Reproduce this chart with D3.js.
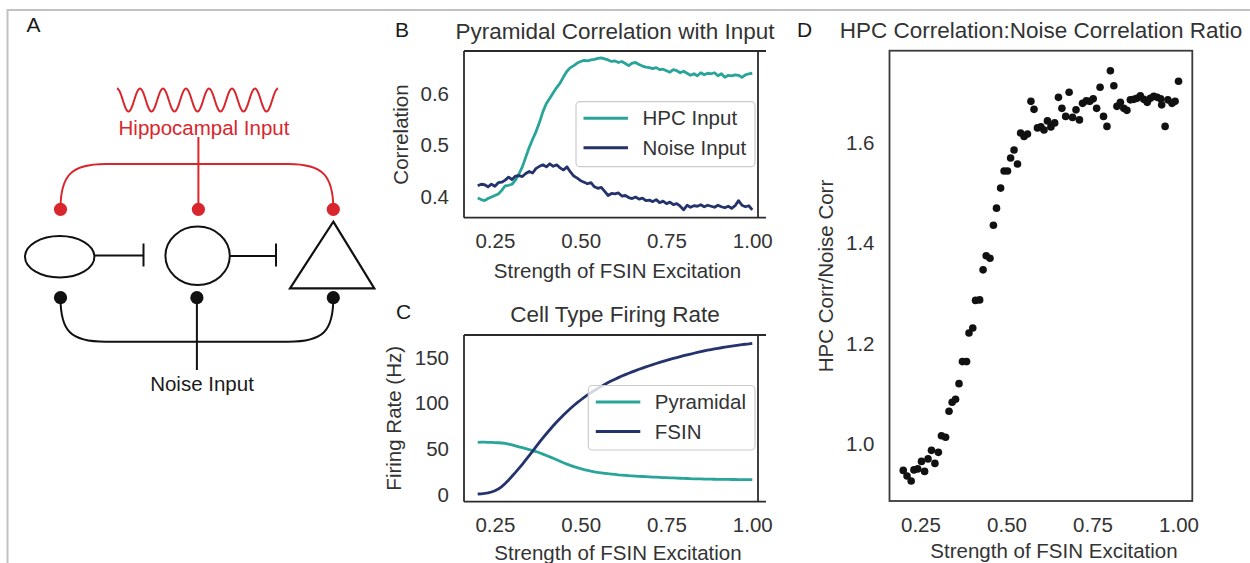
<!DOCTYPE html>
<html><head><meta charset="utf-8">
<script src="https://cdn.jsdelivr.net/npm/d3@7"></script>
<style>
html,body{margin:0;padding:0;background:#fff;}
svg{display:block;font-family:"Liberation Sans",Arial,Helvetica,sans-serif;}
</style></head><body>
<svg id="chart" width="1250" height="563"></svg>
<script>
// ---------------- DATA ----------------
const excitation = [
0.20,0.21,0.22,0.23,0.24,0.25,0.26,0.27,0.28,0.29,
0.30,0.31,0.32,0.33,0.34,0.35,0.36,0.37,0.38,0.39,
0.40,0.41,0.42,0.43,0.44,0.45,0.46,0.47,0.48,0.49,
0.50,0.51,0.52,0.53,0.54,0.55,0.56,0.57,0.58,0.59,
0.60,0.61,0.62,0.63,0.64,0.65,0.66,0.67,0.68,0.69,
0.70,0.71,0.72,0.73,0.74,0.75,0.76,0.77,0.78,0.79,
0.80,0.81,0.82,0.83,0.84,0.85,0.86,0.87,0.88,0.89,
0.90,0.91,0.92,0.93,0.94,0.95,0.96,0.97,0.98,0.99,
1.00];
const hpcCorr = [
0.397,0.394,0.392,0.396,0.399,0.402,0.405,0.412,0.421,0.422,
0.424,0.432,0.444,0.458,0.477,0.496,0.512,0.527,0.545,0.566,
0.582,0.592,0.603,0.613,0.622,0.634,0.645,0.652,0.656,0.661,
0.664,0.666,0.665,0.667,0.668,0.670,0.671,0.669,0.667,0.664,
0.665,0.662,0.664,0.660,0.656,0.661,0.662,0.658,0.655,0.653,
0.652,0.650,0.652,0.648,0.649,0.646,0.643,0.648,0.646,0.642,
0.645,0.641,0.637,0.640,0.636,0.642,0.638,0.641,0.640,0.642,
0.636,0.640,0.633,0.637,0.636,0.638,0.637,0.633,0.638,0.640,
0.641];
const noiseCorr = [
0.421,0.424,0.423,0.419,0.424,0.420,0.427,0.428,0.432,0.438,
0.433,0.440,0.441,0.439,0.445,0.449,0.446,0.455,0.459,0.462,
0.458,0.464,0.459,0.462,0.456,0.452,0.458,0.448,0.440,0.436,
0.431,0.428,0.425,0.427,0.419,0.416,0.418,0.410,0.402,0.406,
0.405,0.407,0.401,0.402,0.398,0.396,0.399,0.395,0.397,0.392,
0.393,0.390,0.394,0.388,0.391,0.386,0.389,0.384,0.386,0.381,
0.374,0.383,0.379,0.382,0.381,0.384,0.380,0.383,0.381,0.379,
0.383,0.380,0.378,0.381,0.377,0.382,0.392,0.383,0.380,0.382,
0.374];
const pyramidalRate = [
57.5,57.6,57.6,57.5,57.4,57.2,57.0,56.7,56.2,55.5,
54.6,53.6,52.6,51.6,50.6,49.6,48.5,47.4,46.1,44.6,
43.1,41.6,40.0,38.4,36.8,35.2,33.7,32.3,31.0,29.8,
28.7,27.7,26.8,26.0,25.3,24.7,24.2,23.7,23.2,22.8,
22.4,22.0,21.7,21.4,21.1,20.9,20.7,20.4,20.2,20.0,
19.8,19.6,19.4,19.2,19.0,18.9,18.7,18.6,18.4,18.3,
18.1,18.0,17.8,17.7,17.6,17.5,17.4,17.3,17.3,17.2,
17.1,17.1,17.0,17.0,16.9,16.9,16.8,16.8,16.8,16.7,
16.7];
const fsinRate = [
1.1,1.3,1.7,2.3,3.3,4.7,6.6,9.2,12.5,16.3,
20.4,24.6,29.0,33.5,38.2,43.0,47.9,52.8,57.6,62.3,
66.8,71.2,75.5,79.6,83.5,87.3,90.9,94.3,97.6,100.7,
103.6,106.4,109.1,111.6,114.0,116.3,118.5,120.6,122.6,124.5,
126.3,128.0,129.7,131.3,132.8,134.3,135.7,137.1,138.4,139.7,
141.0,142.2,143.4,144.6,145.7,146.8,147.9,148.9,149.9,150.9,
151.9,152.8,153.7,154.6,155.5,156.3,157.1,157.9,158.6,159.3,
160.0,160.6,161.2,161.8,162.4,162.9,163.4,163.9,164.4,164.8,
165.3];
const ratioX = [
0.200,0.211,0.223,0.231,0.242,0.253,0.262,0.272,0.282,0.292,
0.302,0.311,0.323,0.333,0.342,0.352,0.362,0.372,0.384,0.391,
0.402,0.410,0.422,0.432,0.441,0.452,0.462,0.471,0.483,0.493,
0.503,0.512,0.522,0.532,0.541,0.551,0.561,0.571,0.580,0.590,
0.600,0.609,0.619,0.629,0.640,0.651,0.661,0.672,0.682,0.692,
0.702,0.712,0.721,0.732,0.742,0.752,0.762,0.772,0.782,0.792,
0.802,0.812,0.821,0.831,0.841,0.850,0.860,0.870,0.879,0.889,
0.899,0.909,0.918,0.928,0.938,0.948,0.951,0.961,0.969,0.981,
0.990,1.000];
const ratioY = [
0.947,0.936,0.926,0.948,0.950,0.965,0.945,0.970,0.987,0.961,
0.983,1.016,1.013,1.065,1.083,1.089,1.120,1.164,1.164,1.221,
1.231,1.286,1.287,1.347,1.375,1.370,1.436,1.470,1.510,1.544,
1.544,1.570,1.586,1.558,1.620,1.613,1.618,1.683,1.667,1.630,
1.632,1.626,1.644,1.632,1.640,1.691,1.669,1.653,1.701,1.651,
1.666,1.646,1.679,1.684,1.683,1.688,1.669,1.711,1.653,1.633,
1.744,1.714,1.673,1.681,1.669,1.665,1.686,1.687,1.689,1.694,
1.687,1.681,1.689,1.693,1.691,1.688,1.676,1.633,1.686,1.679,
1.683,1.723];

const xTicks = [0.25, 0.50, 0.75, 1.00];
const corrTicks = [0.4, 0.5, 0.6];
const rateTicks = [0, 50, 100, 150];
const ratioTicks = [1.0, 1.2, 1.4, 1.6];
const corrSeries = ["HPC Input", "Noise Input"];
const rateSeries = ["Pyramidal", "FSIN"];
const cellTypes = ["Basket", "FSIN", "Pyramidal"];

// ---------------- STYLE ----------------
const TEAL = "#28a499", NAVY = "#24336b", TXT = "#333", SPINE = "#2b2b2b";
const FS = 20.5, TFS = 22.5, LFS = 21;
const RED = "#d9262c";

const svg = d3.select("#chart");

// outer frame (top + left gray rules)
svg.append("line").attr("x1",7.5).attr("x2",1250).attr("y1",10).attr("y2",10).attr("stroke","#c2c2c2").attr("stroke-width",2);
svg.append("line").attr("x1",7.5).attr("x2",7.5).attr("y1",9).attr("y2",563).attr("stroke","#c2c2c2").attr("stroke-width",2);

function letter(txt, x, y){
  svg.append("text").attr("x",x).attr("y",y).attr("font-size",LFS).attr("fill","#1a1a1a").text(txt);
}
function title(txt, x, y){
  svg.append("text").attr("x",x).attr("y",y).attr("text-anchor","middle").attr("font-size",TFS).attr("fill",TXT).text(txt);
}
function axisText(g){
  g.select(".domain").remove();
  g.selectAll("text").attr("font-size",FS).attr("fill",TXT).attr("font-family",'"Liberation Sans",Arial,sans-serif');
}
function xAxis(x, yPix, fmt){
  svg.append("g").attr("transform",`translate(0,${yPix})`)
    .call(d3.axisBottom(x).tickValues(xTicks).tickSize(0).tickPadding(16).tickFormat(d3.format(fmt)))
    .call(axisText);
}
function yAxis(y, xPix, ticks, fmt){
  svg.append("g").attr("transform",`translate(${xPix},0)`)
    .call(d3.axisLeft(y).tickValues(ticks).tickSize(0).tickPadding(15).tickFormat(d3.format(fmt)))
    .call(axisText);
}
function yLabel(txt, x, y){
  svg.append("text").attr("transform",`translate(${x},${y}) rotate(-90)`).attr("text-anchor","middle")
    .attr("font-size",FS).attr("fill",TXT).text(txt);
}
function xLabel(txt, x, y){
  svg.append("text").attr("x",x).attr("y",y).attr("text-anchor","middle").attr("font-size",FS).attr("fill",TXT).text(txt);
}
function spinesBC(x, y){
  const [x0,x1] = x.range(), [yb,yt] = y.range();
  const g = svg.append("g").attr("stroke",SPINE).attr("stroke-width",1.8).attr("fill","none");
  g.append("line").attr("x1",x0).attr("x2",x1).attr("y1",yt).attr("y2",yt);
  g.append("line").attr("x1",x0).attr("x2",x1).attr("y1",yb).attr("y2",yb);
  g.append("line").attr("x1",x0).attr("x2",x0).attr("y1",yt).attr("y2",yb);
  g.append("line").attr("x1",x1-8).attr("x2",x1-8).attr("y1",yt).attr("y2",yb);
}
function legend(names, colors, box){
  const g = svg.append("g");
  g.append("rect").attr("x",box.x).attr("y",box.y).attr("width",box.w).attr("height",box.h)
    .attr("rx",4).attr("fill","#fff").attr("fill-opacity",0.8).attr("stroke","#cccccc").attr("stroke-width",1.2);
  names.forEach((n,i)=>{
    const yy = box.y + 16.5 + i*29.5;
    g.append("line").attr("x1",box.x+7.5).attr("x2",box.x+52).attr("y1",yy).attr("y2",yy)
      .attr("stroke",colors[i]).attr("stroke-width",3);
    g.append("text").attr("x",box.x+66.5).attr("y",yy+7.2).attr("font-size",FS).attr("fill",TXT).text(n);
  });
}

// ---------------- PANEL A (schematic) ----------------
letter("A", 26.5, 32.3);
const cellX = d3.scalePoint().domain(cellTypes).range([60.5, 333.3]);
const gA = svg.append("g");
// sine wave
const waveLine = d3.line().curve(d3.curveBasis);
const wavePts = d3.range(0, 161.5, 1).map(t => [117 + t, 100 - 11.6*Math.cos(2*Math.PI*t/23)]);
gA.append("path").attr("d", waveLine(wavePts)).attr("fill","none").attr("stroke",RED).attr("stroke-width",2);
gA.append("text").attr("x",204).attr("y",135).attr("text-anchor","middle").attr("font-size",FS).attr("fill",RED).text("Hippocampal Input");
// red input tree
const xl = cellX("Basket"), xm = cellX("FSIN"), xr = cellX("Pyramidal");
gA.append("path").attr("d",`M${xl},209 C${xl},176 ${xl+10},164 ${xl+45},164 L${xr-45},164 C${xr-10},164 ${xr},176 ${xr},209`)
  .attr("fill","none").attr("stroke",RED).attr("stroke-width",2);
gA.append("line").attr("x1",xm+1.5).attr("x2",xm+1.5).attr("y1",137).attr("y2",209).attr("stroke",RED).attr("stroke-width",2);
cellTypes.forEach(c=>{
  gA.append("circle").attr("cx",cellX(c)+(c==="FSIN"?1.5:0)).attr("cy",209.3).attr("r",6.6).attr("fill",RED);
});
// black noise tree
gA.append("path").attr("d",`M${xl},298 C${xl},331 ${xl+10},341.7 ${xl+45},341.7 L${xr-45},341.7 C${xr-10},341.7 ${xr},331 ${xr},298`)
  .attr("fill","none").attr("stroke","#111").attr("stroke-width",2);
gA.append("line").attr("x1",xm).attr("x2",xm).attr("y1",298).attr("y2",370).attr("stroke","#111").attr("stroke-width",2);
cellTypes.forEach(c=>{
  gA.append("circle").attr("cx",cellX(c)).attr("cy",297.7).attr("r",6.6).attr("fill","#111");
});
gA.append("text").attr("x",202).attr("y",390.5).attr("text-anchor","middle").attr("font-size",FS).attr("fill","#1a1a1a").text("Noise Input");
// cells
const cellStroke = {fill:"none", stroke:"#111", "stroke-width":2};
function styl(sel){ Object.entries(cellStroke).forEach(([k,v])=>sel.attr(k,v)); return sel; }
styl(gA.append("ellipse").attr("cx",xl-0.8).attr("cy",256.7).attr("rx",34.7).attr("ry",20.7));
styl(gA.append("ellipse").attr("cx",xm+0.7).attr("cy",255.8).attr("rx",32.2).attr("ry",29.2));
styl(gA.append("path").attr("d",`M${xr},221.7 L${xr+41},288.3 L${xr-43.3},288.3 Z`)).attr("stroke-width",2.2).attr("stroke-linejoin","miter");
// inhibitory synapses
styl(gA.append("line").attr("x1",xl+34).attr("x2",143.5).attr("y1",255.5).attr("y2",255.5));
styl(gA.append("line").attr("x1",143.5).attr("x2",143.5).attr("y1",243.5).attr("y2",266.5));
styl(gA.append("line").attr("x1",xm+33).attr("x2",276).attr("y1",256).attr("y2",256));
styl(gA.append("line").attr("x1",276).attr("x2",276).attr("y1",243.5).attr("y2",266.5));

// ---------------- PANEL B ----------------
letter("B", 395, 37.3);
const xB = d3.scaleLinear().domain([0.16, 1.04]).range([464, 766]);
const yB = d3.scaleLinear().domain([0.3586, 0.6845]).range([217.7, 51]);
title("Pyramidal Correlation with Input", 615, 39);
const lineB = (vals)=> d3.line().x((d,i)=>xB(excitation[i])).y(d=>yB(d))(vals);
svg.append("path").attr("d",lineB(hpcCorr)).attr("fill","none").attr("stroke",TEAL).attr("stroke-width",2.8).attr("stroke-linejoin","round");
svg.append("path").attr("d",lineB(noiseCorr)).attr("fill","none").attr("stroke",NAVY).attr("stroke-width",2.8).attr("stroke-linejoin","round");
legend(corrSeries, [TEAL, NAVY], {x:576, y:101.7, w:179, h:65});
spinesBC(xB, yB);
xAxis(xB, 217.7, ".2f");
yAxis(yB, 464, corrTicks, ".1f");
yLabel("Correlation", 408, 134.5);
xLabel("Strength of FSIN Excitation", 617.5, 278.3);

// ---------------- PANEL C ----------------
letter("C", 396, 319.3);
const xC = d3.scaleLinear().domain([0.16, 1.04]).range([464, 766]);
const yC = d3.scaleLinear().domain([-7.3, 174.5]).range([501.7, 335]);
title("Cell Type Firing Rate", 615, 321.7);
const lineC = (vals)=> d3.line().x((d,i)=>xC(excitation[i])).y(d=>yC(d))(vals);
svg.append("path").attr("d",lineC(pyramidalRate)).attr("fill","none").attr("stroke",TEAL).attr("stroke-width",2.8);
svg.append("path").attr("d",lineC(fsinRate)).attr("fill","none").attr("stroke",NAVY).attr("stroke-width",2.8);
legend(rateSeries, [TEAL, NAVY], {x:588.3, y:385.5, w:166.7, h:64.5});
spinesBC(xC, yC);
xAxis(xC, 501.7, ".2f");
yAxis(yC, 464, rateTicks, "d");
yLabel("Firing Rate (Hz)", 401, 418.3);
xLabel("Strength of FSIN Excitation", 618, 560);

// ---------------- PANEL D ----------------
letter("D", 797, 36.7);
const xD = d3.scaleLinear().domain([0.16, 1.04]).range([889.5, 1192.3]);
const yD = d3.scaleLinear().domain([0.886, 1.784]).range([501, 50.7]);
title("HPC Correlation:Noise Correlation Ratio", 1041, 38.3);
svg.append("g").selectAll("circle").data(ratioY).join("circle")
  .attr("cx",(d,i)=>xD(ratioX[i])).attr("cy",d=>yD(d)).attr("r",3.8).attr("fill","#111");
svg.append("rect").attr("x",xD.range()[0]).attr("y",yD.range()[1])
  .attr("width",xD.range()[1]-xD.range()[0]).attr("height",yD.range()[0]-yD.range()[1])
  .attr("fill","none").attr("stroke","#3a3a3a").attr("stroke-width",1.8);
xAxis(xD, 501, ".2f");
yAxis(yD, 889.5, ratioTicks, ".1f");
yLabel("HPC Corr/Noise Corr", 833, 276);
xLabel("Strength of FSIN Excitation", 1054, 558.3);
</script>
</body></html>
